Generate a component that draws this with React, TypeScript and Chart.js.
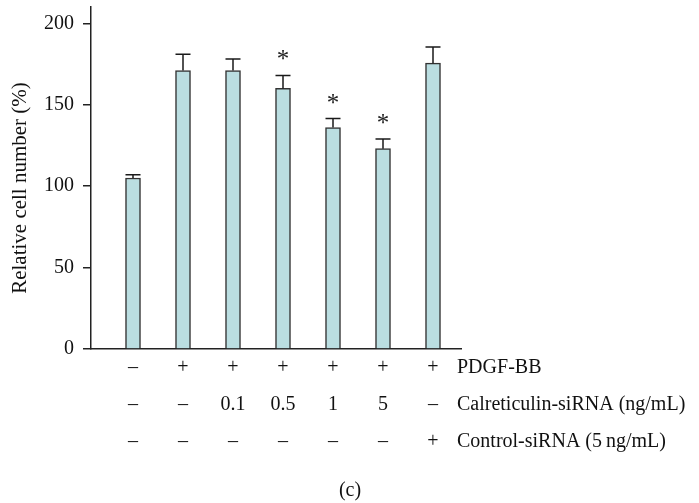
import React, { useEffect, useRef } from "react";
import { Chart, registerables } from "chart.js";

Chart.register(...registerables);

const positions = [1, 2, 3, 4, 5, 6, 7];
const values = [105, 171, 171, 160, 136, 123, 175.5];
const errors = [2, 10, 7, 8, 5.5, 6, 10];
const significant = [false, false, false, true, true, true, false];
const pdgfRow = ["–", "+", "+", "+", "+", "+", "+"];
const calreticulinRow = ["–", "–", "0.1", "0.5", "1", "5", "–"];
const controlRow = ["–", "–", "–", "–", "–", "–", "+"];
const rowNames = ["PDGF-BB", "Calreticulin-siRNA (ng/mL)", "Control-siRNA (5\u2009ng/mL)"];
const yTicks = [0, 50, 100, 150, 200];
const yTitle = "Relative cell number (%)";
const panelLabel = "(c)";

const FONT = "'Liberation Serif', 'Times New Roman', serif";

export default function App() {
  const ref = useRef<HTMLCanvasElement | null>(null);

  useEffect(() => {
    const canvas = ref.current;
    if (!canvas) return;

    const overlay = {
      id: "overlay",
      afterDatasetsDraw(chart: any) {
        const ctx = chart.ctx;
        const xs = chart.scales.x;
        const ys = chart.scales.y;
        ctx.save();
        // error bars
        ctx.strokeStyle = "#1a1a1a";
        ctx.lineWidth = 1.5;
        positions.forEach((p, i) => {
          const x = xs.getPixelForValue(p);
          const yTop = ys.getPixelForValue(values[i]);
          const yErr = ys.getPixelForValue(values[i] + errors[i]);
          ctx.beginPath();
          ctx.moveTo(x, yTop);
          ctx.lineTo(x, yErr);
          ctx.moveTo(x - 7.5, yErr);
          ctx.lineTo(x + 7.5, yErr);
          ctx.stroke();
          if (significant[i]) {
            ctx.fillStyle = "#222";
            ctx.font = `25px ${FONT}`;
            ctx.textAlign = "center";
            ctx.textBaseline = "alphabetic";
            ctx.fillText("*", x, yErr - 8);
          }
        });
        // treatment rows
        ctx.fillStyle = "#111";
        ctx.font = `20px ${FONT}`;
        ctx.textBaseline = "middle";
        const rows = [pdgfRow, calreticulinRow, controlRow];
        const rowY = [368, 405, 442];
        rows.forEach((row, r) => {
          ctx.textAlign = "center";
          row.forEach((t, i) => {
            ctx.fillText(t, xs.getPixelForValue(positions[i]), rowY[r]);
          });
          ctx.textAlign = "left";
          ctx.fillText(rowNames[r], 457, rowY[r]);
        });
        // panel label
        ctx.textAlign = "center";
        ctx.fillText(panelLabel, 350, 491);
        // y title
        ctx.font = `21px ${FONT}`;
        ctx.translate(20, 188);
        ctx.rotate(-Math.PI / 2);
        ctx.textAlign = "center";
        ctx.fillText(yTitle, 0, 0);
        ctx.restore();
      },
    };

    const chart = new Chart(canvas, {
      type: "bar",
      data: {
        datasets: [
          {
            data: positions.map((p, i) => ({ x: p, y: values[i] })),
            backgroundColor: "#badee1",
            borderColor: "#333333",
            borderWidth: 1.5,
            barThickness: 15,
          },
        ],
      },
      options: {
        responsive: false,
        animation: false,
        events: [],
        layout: { padding: { left: 0, top: 7, right: 238, bottom: 154 } },
        plugins: { legend: { display: false }, tooltip: { enabled: false } },
        scales: {
          x: {
            type: "linear",
            offset: false,
            min: 0.16,
            max: 7.56,
            afterBuildTicks: (axis: any) => {
              axis.ticks = positions.map((p) => ({ value: p }));
            },
            afterFit: (axis: any) => {
              axis.height = 0;
              axis.paddingLeft = 0;
              axis.paddingRight = 0;
            },
            ticks: { display: false },
            grid: { display: false, drawTicks: false, offset: false },
            border: { display: true, color: "#222", width: 1.5 },
          },
          y: {
            min: 0,
            max: 210,
            afterBuildTicks: (axis: any) => {
              axis.ticks = yTicks.map((v) => ({ value: v }));
            },
            afterFit: (axis: any) => {
              axis.width = 91;
              axis.paddingTop = 0;
              axis.paddingBottom = 0;
            },
            ticks: {
              color: "#111",
              font: { family: FONT, size: 20 },
              padding: 9,
            },
            grid: {
              drawOnChartArea: false,
              drawTicks: true,
              tickLength: 8,
              color: "#222",
              lineWidth: 1.5,
            },
            border: { display: true, color: "#222", width: 1.5 },
          },
        },
      },
      plugins: [overlay],
    });

    return () => chart.destroy();
  }, []);

  return (
    <div style={{ position: "fixed", left: 0, top: 0, width: 699, height: 503, background: "#fff" }}>
      <canvas ref={ref} width={699} height={503} style={{ width: 699, height: 503, display: "block" }} />
    </div>
  );
}
